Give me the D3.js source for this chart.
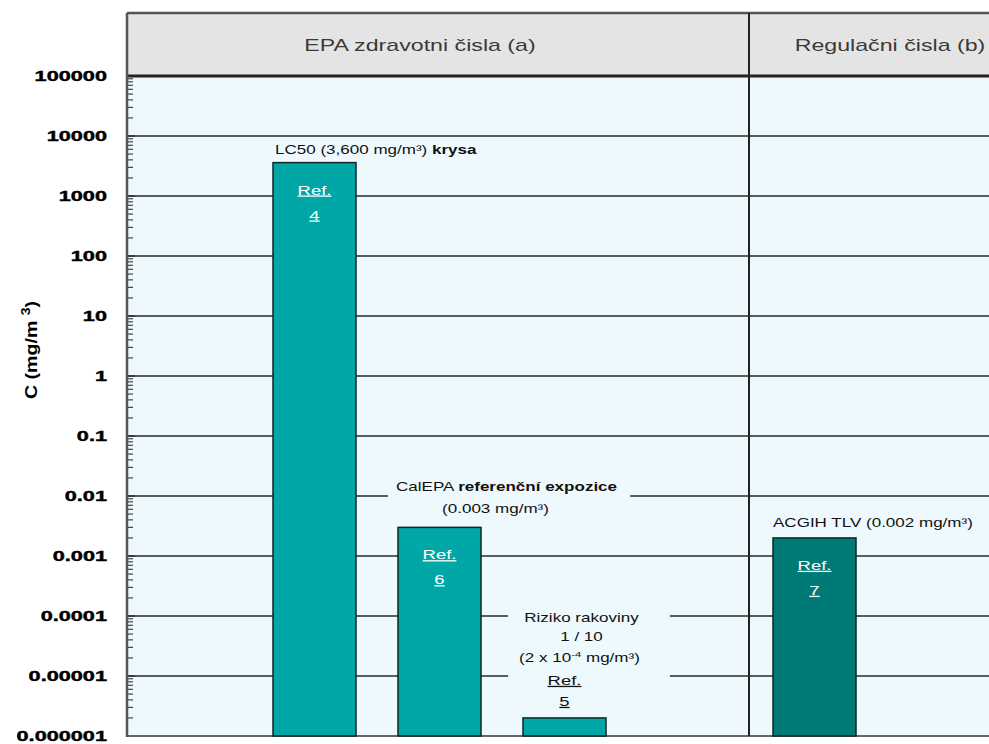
<!DOCTYPE html>
<html><head><meta charset="utf-8">
<script src="https://cdn.jsdelivr.net/npm/d3@7"></script>
<style>body{margin:0;background:#fff}svg{display:block}</style>
</head><body>
<svg id="c" width="989" height="744"></svg>
<script>
// ---- data ----
const categories = ["LC50 krysa", "CalEPA referenční expozice", "Riziko rakoviny 1/10", "ACGIH TLV"];
const categoryGroups = ["EPA zdravotni čisla (a)", "EPA zdravotni čisla (a)", "EPA zdravotni čisla (a)", "Regulačni čisla (b)"];
const values = [3600, 0.003, 0.000002, 0.002];
const refs = ["4", "6", "5", "7"];
const groupNames = ["EPA zdravotni čisla (a)", "Regulačni čisla (b)"];
const yTicks = [100000, 10000, 1000, 100, 10, 1, 0.1, 0.01, 0.001, 0.0001, 0.00001, 0.000001];
const yTickLabels = ["100000", "10000", "1000", "100", "10", "1", "0.1", "0.01", "0.001", "0.0001", "0.00001", "0.000001"];
const yTitle = "C (mg/m";

// ---- layout ----
const L = 127, R = 989, T = 76, B = 736, HT = 13;
const SX = 1.42;
const svg = d3.select("#c");
const y = d3.scaleLog().domain([1e-6, 1e5]).range([B, T]);
const slots = ["gap0", categories[0], categories[1], categories[2], "gap1", categories[3], "gap2"];
const x = d3.scaleBand().domain(slots).range([148, 981]).paddingInner(0.336).paddingOuter(0);
const bw = x.bandwidth();
const divX = x(categories[3]) - 24;

// backgrounds
svg.append("rect").attr("x", L).attr("y", HT).attr("width", R - L).attr("height", T - HT).attr("fill", "#e4e4e4");
svg.append("rect").attr("x", L).attr("y", T).attr("width", R - L).attr("height", B - T).attr("fill", "#eef9fd");

// gridlines
svg.append("g").selectAll("line").data(yTicks.slice(1, -1)).join("line")
  .attr("x1", L).attr("x2", R).attr("y1", d => y(d)).attr("y2", d => y(d))
  .attr("stroke", "#2a2a2a").attr("stroke-width", 1.5);

// minor ticks
const minors = [];
for (let e = -6; e < 5; e++) for (let k = 2; k <= 9; k++) minors.push(k * Math.pow(10, e));
svg.append("g").selectAll("line").data(minors).join("line")
  .attr("x1", L).attr("x2", L + 6).attr("y1", d => y(d)).attr("y2", d => y(d))
  .attr("stroke", "#444").attr("stroke-width", 1.2);
// decade ticks
svg.append("g").selectAll("line").data(yTicks).join("line")
  .attr("x1", L).attr("x2", L + 8).attr("y1", d => y(d)).attr("y2", d => y(d))
  .attr("stroke", "#333").attr("stroke-width", 1.5);

// frame lines
svg.append("line").attr("x1", L).attr("x2", R).attr("y1", HT).attr("y2", HT).attr("stroke", "#555").attr("stroke-width", 2.5);
svg.append("line").attr("x1", L).attr("x2", R).attr("y1", T).attr("y2", T).attr("stroke", "#222").attr("stroke-width", 3);
svg.append("line").attr("x1", L).attr("x2", R).attr("y1", B).attr("y2", B).attr("stroke", "#666").attr("stroke-width", 2);
svg.append("line").attr("x1", divX).attr("x2", divX).attr("y1", HT).attr("y2", B).attr("stroke", "#222").attr("stroke-width", 2);
svg.append("line").attr("x1", L).attr("x2", L).attr("y1", HT).attr("y2", B + 1).attr("stroke", "#555").attr("stroke-width", 2.5);

// y axis labels via d3 axis
const ax = svg.append("g").attr("transform", `translate(${L},0)`)
  .call(d3.axisLeft(y).tickValues(yTicks).tickFormat((d, i) => yTickLabels[i]).tickSize(0));
ax.select(".domain").remove();
ax.selectAll("text")
  .attr("x", -20 / 1.55).attr("dy", "0.35em")
  .attr("transform", "scale(1.55,1)")
  .attr("font-family", "Liberation Sans, Arial, sans-serif")
  .attr("font-weight", "bold").attr("font-size", 14).attr("fill", "#000")
  .attr("stroke", "#000").attr("stroke-width", 0.4);

// y title
const yt = svg.append("text").attr("transform", "translate(37,350) rotate(-90) scale(1.4,1.2)")
  .attr("text-anchor", "middle").attr("font-family", "Liberation Sans, Arial, sans-serif")
  .attr("font-weight", "bold").attr("font-size", 14).attr("fill", "#000");
yt.append("tspan").text(yTitle + " ");
yt.append("tspan").attr("dy", -6).attr("font-size", 10).text("3");
yt.append("tspan").attr("dy", 6).text(")");

// header texts
const headerCenters = [420, 890];
groupNames.forEach((g, i) => {
  svg.append("text").attr("transform", `translate(${headerCenters[i]},51) scale(1.45,1)`)
    .attr("text-anchor", "middle").attr("font-family", "Liberation Sans, Arial, sans-serif")
    .attr("font-size", 16).attr("fill", "#3a3a3a").text(g);
});

// bars
const barColor = g => g === groupNames[0] ? "#00a7a6" : "#007a77";
svg.append("g").selectAll("rect").data(categories).join("rect")
  .attr("x", d => x(d)).attr("width", bw)
  .attr("y", (d, i) => y(values[i])).attr("height", (d, i) => B - y(values[i]))
  .attr("fill", (d, i) => barColor(categoryGroups[i]))
  .attr("stroke", "#0f2626").attr("stroke-width", 1.5);

// label helper
function label(parent, xx, yy, anchor, parts, size, color) {
  const t = parent.append("text").attr("transform", `translate(${xx},${yy}) scale(${SX},1)`)
    .attr("text-anchor", anchor).attr("font-family", "Liberation Sans, Arial, sans-serif")
    .attr("font-size", size || 12).attr("fill", color || "#111");
  parts.forEach(p => {
    const s = t.append("tspan").text(p.t);
    if (p.b) s.attr("font-weight", "bold");
    if (p.u) s.attr("text-decoration", "underline");
    if (p.sup) s.attr("font-size", 8).attr("dy", -5);
    if (p.down) s.attr("dy", 5);
  });
  return t;
}
function withBg(g, padL, padR, padV) {
  const bb = g.node().getBBox();
  g.insert("rect", ":first-child").attr("x", bb.x - padL).attr("y", bb.y - padV)
    .attr("width", bb.width + padL + padR).attr("height", bb.height + 2 * padV).attr("fill", "#eef9fd");
}

const cx = i => x(categories[i]) + bw / 2;

// LC50 label
const g0 = svg.append("g");
label(g0, x(categories[0]) + 2, y(values[0]) - 9, "start",
  [{t: "LC50 (3,600 mg/m³) "}, {t: "krysa", b: true}]);

// CalEPA
const g1 = svg.append("g");
label(g1, x(categories[1]) - 2, 491, "start", [{t: "CalEPA "}, {t: "referenční expozice", b: true}]);
label(g1, cx(1) + 56, 513, "middle", [{t: "(0.003 mg/m³)"}]);
withBg(g1, 8, 13, 2);

// Riziko rakoviny
const g2 = svg.append("g");
label(g2, cx(2) + 17, 622, "middle", [{t: "Riziko rakoviny"}]);
label(g2, cx(2) + 17, 641, "middle", [{t: "1 / 10"}]);
label(g2, cx(2) + 15, 662, "middle", [{t: "(2 x 10"}, {t: "-4", sup: true}, {t: " mg/m³)", down: true}]);
label(g2, cx(2), 685, "middle", [{t: "Ref.", u: true}], 13);
label(g2, cx(2), 706, "middle", [{t: refs[2], u: true}], 13);
withBg(g2, 11, 30, 3);

// ACGIH
const g3 = svg.append("g");
label(g3, x(categories[3]), y(values[3]) - 11, "start", [{t: "ACGIH TLV (0.002 mg/m³)"}]);

// Ref labels inside bars
[0, 1, 3].forEach(i => {
  const top = y(values[i]);
  label(svg, cx(i), top + 32, "middle", [{t: "Ref.", u: true}], 13, "#fff");
  label(svg, cx(i), top + 57, "middle", [{t: refs[i], u: true}], 13, "#fff");
});
</script>
</body></html>
